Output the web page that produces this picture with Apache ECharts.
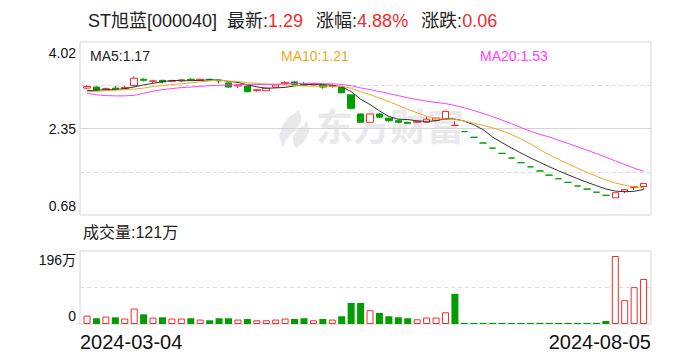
<!DOCTYPE html>
<html><head><meta charset="utf-8">
<script src="https://cdn.jsdelivr.net/npm/echarts@6/dist/echarts.min.js"></script>
<style>html,body{margin:0;padding:0;background:#fff}#c{width:688px;height:360px}</style>
</head><body><div id="c"></div>
<script>
const stockName = 'ST旭蓝';
const stockCode = '000040';
const dates = ['2024-03-04','2024-03-05','2024-03-06','2024-03-07','2024-03-08','2024-03-11','2024-03-12','2024-03-13','2024-03-14','2024-03-15',
'2024-03-18','2024-03-19','2024-03-20','2024-03-21','2024-03-22','2024-03-25','2024-03-26','2024-03-27','2024-03-28','2024-03-29',
'2024-04-01','2024-04-02','2024-04-03','2024-04-08','2024-04-09','2024-04-10','2024-04-11','2024-04-12','2024-04-15','2024-04-16',
'2024-04-17','2024-04-18','2024-04-19','2024-04-22','2024-04-23','2024-04-24','2024-04-25','2024-04-26','2024-04-29','2024-07-08',
'2024-07-09','2024-07-10','2024-07-11','2024-07-12','2024-07-15','2024-07-16','2024-07-17','2024-07-18','2024-07-19','2024-07-22',
'2024-07-23','2024-07-24','2024-07-25','2024-07-26','2024-07-29','2024-07-30','2024-07-31','2024-08-01','2024-08-02','2024-08-05'];
const opens = [3.13,3.15,3.10,3.13,3.12,3.18,3.30,3.26,3.28,3.26,
3.27,3.30,3.28,3.30,3.28,3.23,3.17,3.17,3.08,3.08,
3.15,3.22,3.25,3.21,3.19,3.18,3.16,3.15,3.00,2.63,
2.47,2.63,2.55,2.50,2.47,2.47,2.47,2.51,2.53,2.41,
2.29,2.18,2.07,1.97,1.87,1.78,1.69,1.61,1.53,1.45,
1.38,1.31,1.24,1.18,1.12,1.06,1.01,1.14,1.21,1.23];
const closes = [3.16,3.08,3.12,3.10,3.14,3.32,3.28,3.27,3.25,3.27,
3.29,3.29,3.30,3.29,3.27,3.15,3.19,3.06,3.10,3.13,
3.19,3.24,3.20,3.19,3.21,3.15,3.18,3.04,2.74,2.47,
2.63,2.57,2.50,2.47,2.45,2.49,2.53,2.55,2.68,2.41,
2.29,2.18,2.07,1.97,1.87,1.78,1.69,1.61,1.53,1.45,
1.38,1.31,1.24,1.18,1.12,1.06,1.11,1.17,1.23,1.29];
const lows = [3.11,3.07,3.08,3.09,3.10,3.16,3.26,3.23,3.22,3.24,
3.25,3.27,3.27,3.28,3.22,3.14,3.13,3.05,3.06,3.07,
3.14,3.20,3.19,3.18,3.18,3.12,3.14,3.03,2.72,2.47,
2.46,2.55,2.48,2.45,2.44,2.46,2.46,2.50,2.51,2.41,
2.29,2.18,2.07,1.97,1.87,1.78,1.69,1.61,1.53,1.45,
1.38,1.31,1.24,1.18,1.12,1.06,1.01,1.10,1.16,1.17];
const highs = [3.19,3.16,3.14,3.17,3.17,3.36,3.32,3.29,3.29,3.29,
3.30,3.32,3.31,3.31,3.30,3.24,3.19,3.18,3.11,3.14,
3.21,3.26,3.26,3.25,3.22,3.19,3.20,3.16,3.00,2.64,
2.64,2.65,2.56,2.52,2.48,2.50,2.58,2.56,2.68,2.49,
2.29,2.18,2.07,1.97,1.87,1.78,1.69,1.61,1.53,1.45,
1.38,1.31,1.24,1.18,1.12,1.06,1.11,1.17,1.23,1.29];
const volumes = [22.6,15.4,20,18,14.6,41.5,26,17.3,18,14.6,
14.6,15.4,11.9,10,15.4,15.4,11.9,13.5,10,10,
11.9,14.6,13.5,15.4,10,13.5,11.9,20.8,56.6,56.6,
37,29.7,20.8,18,15.4,12.7,17.3,17.3,31.5,81,
3,3,3,3,3,3,3,3,3,3,
3,3,3,3,3,8,182.5,64,99,121];
const ma5 = [3.08,3.09,3.10,3.10,3.120,3.152,3.192,3.222,3.252,3.278,
3.272,3.274,3.280,3.288,3.288,3.260,3.240,3.192,3.154,3.126,
3.134,3.144,3.172,3.190,3.206,3.198,3.186,3.154,3.064,2.916,
2.812,2.690,2.582,2.528,2.524,2.496,2.488,2.498,2.540,2.532,
2.492,2.422,2.326,2.184,2.076,1.974,1.876,1.784,1.696,1.612,
1.532,1.456,1.382,1.312,1.246,1.182,1.142,1.128,1.138,1.172];
const ma10 = [3.06,3.07,3.08,3.09,3.10,3.11,3.13,3.16,3.18,3.199,
3.212,3.233,3.251,3.270,3.283,3.266,3.257,3.236,3.221,3.207,
3.197,3.192,3.182,3.172,3.166,3.166,3.165,3.163,3.127,3.061,
3.005,2.938,2.868,2.796,2.720,2.654,2.589,2.540,2.534,2.528,
2.494,2.455,2.412,2.362,2.304,2.233,2.149,2.055,1.940,1.844,
1.753,1.666,1.583,1.504,1.429,1.357,1.299,1.255,1.225,1.209];
const ma20 = [3.03,3.00,2.985,2.98,2.98,2.99,3.03,3.07,3.10,3.12,
3.14,3.15,3.165,3.175,3.185,3.19,3.195,3.20,3.20,3.203,
3.205,3.213,3.217,3.221,3.225,3.216,3.211,3.200,3.174,3.134,
3.101,3.065,3.025,2.984,2.943,2.910,2.877,2.852,2.831,2.795,
2.750,2.697,2.640,2.579,2.512,2.444,2.369,2.298,2.237,2.186,
2.124,2.061,1.998,1.933,1.867,1.795,1.724,1.655,1.583,1.527];
const priceTickLabels = ['0.68','2.35','4.02'];
const volTickLabels = ['0','196万'];

const RED = '#f02c2c', GREEN = '#009d00';
const FONT = '"Liberation Sans","Noto Sans CJK SC",sans-serif';
const priceMin = parseFloat(priceTickLabels[0]), priceMax = parseFloat(priceTickLabels[2]);
const volMax = parseFloat(volTickLabels[1]);
const n = closes.length;

// doji with an upper shadow is drawn in red (as in the reference)
const candleData = opens.map((o, i) => {
  const v = [o, closes[i], lows[i], highs[i]];
  if (o === closes[i] && highs[i] > o) {
    return {value: v, itemStyle: {color: '#fff', color0: '#fff', borderColor: RED, borderColor0: RED}};
  }
  return v;
});
const volData = volumes.map((v, i) => {
  const up = closes[i] > opens[i] || (closes[i] === opens[i] && i > 0 && closes[i] >= closes[i-1]);
  return {value: v, itemStyle: up ? {color: '#fff', borderColor: RED, borderWidth: 1} : {color: GREEN}};
});
const last = closes[n-1], prev = closes[n-2];
const chg = last - prev, pct = chg / prev * 100;

// watermark logo outline (decoration only)
const logoShape = [[22,0],[12,7],[5,16],[2,26],[6,38],[9,30],[14,24],[20,20],[16,27],[16,33],[19,38],[27,32],[32,22],[30,10],[27,15],[23,18],[19,20],[24,12],[24,6]];
const logoPts = logoShape.map(p => [277 + p[0], 110 + p[1]]);

const chart = echarts.init(document.getElementById('c'), null, {renderer: 'svg'});
const frameBorder = '#d5d5da';
const WM = '#e9e9ed';
chart.setOption({
  animation: false,
  backgroundColor: '#fff',
  textStyle: {fontFamily: FONT},
  graphic: [
    {type: 'polygon', z: 0, silent: true, shape: {points: logoPts}, style: {fill: WM}},
    {type: 'text', left: 316, top: 106, z: 0, silent: true, style: {text: '东方财富', fill: WM, fontSize: 37, fontWeight: 'bold', fontFamily: '"Noto Sans CJK SC",sans-serif'}},
    {type: 'text', left: 88, top: 12, z: 10, style: {
      text: '{n|' + stockName + '[' + stockCode + ']}{g1|}{n|最新:}{v|' + last.toFixed(2) + '}{g|}{n|涨幅:}{v|' + pct.toFixed(2) + '%}{g|}{n|涨跌:}{v|' + chg.toFixed(2) + '}',
      rich: {
        n: {fontSize: 18, fill: '#222', fontFamily: FONT},
        v: {fontSize: 18, fill: RED, fontFamily: FONT},
        g1: {width: 10}, g: {width: 13}
      }}},
    {type: 'text', left: 90, top: 49, z: 10, style: {text: 'MA5:' + ma5[n-1].toFixed(2), fill: '#222', fontSize: 14, fontFamily: FONT}},
    {type: 'text', left: 281, top: 49, z: 10, style: {text: 'MA10:' + ma10[n-1].toFixed(2), fill: '#f5a623', fontSize: 14, fontFamily: FONT}},
    {type: 'text', left: 480, top: 49, z: 10, style: {text: 'MA20:' + ma20[n-1].toFixed(2), fill: '#ff40ff', fontSize: 14, fontFamily: FONT}},
    {type: 'text', left: 83, top: 224, z: 10, style: {text: '成交量:' + Math.round(volumes[n-1]) + '万', fill: '#222', fontSize: 16, fontFamily: FONT}}
  ],
  grid: [
    {left: 80, top: 42, width: 571, height: 173, show: true, borderColor: frameBorder, borderWidth: 1, backgroundColor: 'transparent'},
    {left: 82.3, top: 42, width: 566, height: 173},
    {left: 80, top: 251, width: 571, height: 73, show: true, borderColor: frameBorder, borderWidth: 1, backgroundColor: 'transparent'},
    {left: 82.3, top: 251, width: 566, height: 73}
  ],
  xAxis: [
    {gridIndex: 0, type: 'value', min: 0, max: 1, show: false},
    {gridIndex: 1, type: 'category', data: dates, boundaryGap: true, show: false},
    {gridIndex: 2, type: 'value', min: 0, max: 1, interval: 1,
      axisLine: {show: false}, axisTick: {show: false}, splitLine: {show: false},
      axisLabel: {show: true, color: '#111', fontSize: 20, fontFamily: FONT, margin: 8,
        alignMinLabel: 'left', alignMaxLabel: 'right',
        formatter: v => v === 0 ? dates[0] : dates[n-1]}},
    {gridIndex: 3, type: 'category', data: dates, boundaryGap: true, show: false}
  ],
  yAxis: [
    {gridIndex: 0, type: 'value', min: 0, max: 4, interval: 1,
      axisLine: {show: false}, axisTick: {show: false},
      splitLine: {show: true, showMinLine: false, showMaxLine: false, lineStyle: {color: '#dcdcdc', type: [4, 3], width: 1}},
      axisLabel: {show: true, color: '#111', fontSize: 14, fontFamily: FONT, margin: 4,
        formatter: v => v === 0 ? '{b|' + priceTickLabels[0] + '}' : v === 2 ? priceTickLabels[1] : v === 4 ? '{t|' + priceTickLabels[2] + '}' : '',
        rich: {t: {fontSize: 14, padding: [21, 0, 0, 0]}, b: {fontSize: 14, padding: [0, 0, 19, 0]}}}},
    {gridIndex: 0, type: 'value', min: 0, max: 4, interval: 2, position: 'left',
      axisLine: {show: false}, axisTick: {show: false}, axisLabel: {show: false},
      splitLine: {show: true, showMinLine: false, showMaxLine: false, lineStyle: {color: '#d4d4d4', type: 'solid', width: 1}}},
    {gridIndex: 1, type: 'value', min: priceMin, max: priceMax, show: false},
    {gridIndex: 2, type: 'value', min: 0, max: volMax, interval: volMax / 2,
      axisLine: {show: false}, axisTick: {show: false},
      splitLine: {show: true, showMinLine: false, showMaxLine: false, lineStyle: {color: '#dcdcdc', type: [4, 3], width: 1}},
      axisLabel: {show: true, color: '#111', fontSize: 14, fontFamily: FONT, margin: 4,
        formatter: v => v === 0 ? '{b|' + volTickLabels[0] + '}' : v === volMax ? '{t|' + volTickLabels[1] + '}' : '',
        rich: {t: {fontSize: 14, padding: [18, 0, 0, 0]}, b: {fontSize: 14, padding: [0, 0, 16, 0]}}}},
    {gridIndex: 3, type: 'value', min: 0, max: volMax, show: false}
  ],
  series: [
    {type: 'candlestick', xAxisIndex: 1, yAxisIndex: 2, data: candleData, barWidth: 7, z: 3,
      itemStyle: {color: '#fff', color0: GREEN, borderColor: RED, borderColor0: GREEN, borderWidth: 1}},
    {type: 'line', name: 'MA5', xAxisIndex: 1, yAxisIndex: 2, data: ma5, symbol: 'none', smooth: false, z: 4,
      lineStyle: {color: '#333', width: 1}},
    {type: 'line', name: 'MA10', xAxisIndex: 1, yAxisIndex: 2, data: ma10, symbol: 'none', z: 4,
      lineStyle: {color: '#f5a623', width: 1}},
    {type: 'line', name: 'MA20', xAxisIndex: 1, yAxisIndex: 2, data: ma20, symbol: 'none', z: 4,
      lineStyle: {color: '#ff40ff', width: 1}},
    {type: 'bar', xAxisIndex: 3, yAxisIndex: 4, data: volData, barWidth: 7}
  ]
});
</script></body></html>
